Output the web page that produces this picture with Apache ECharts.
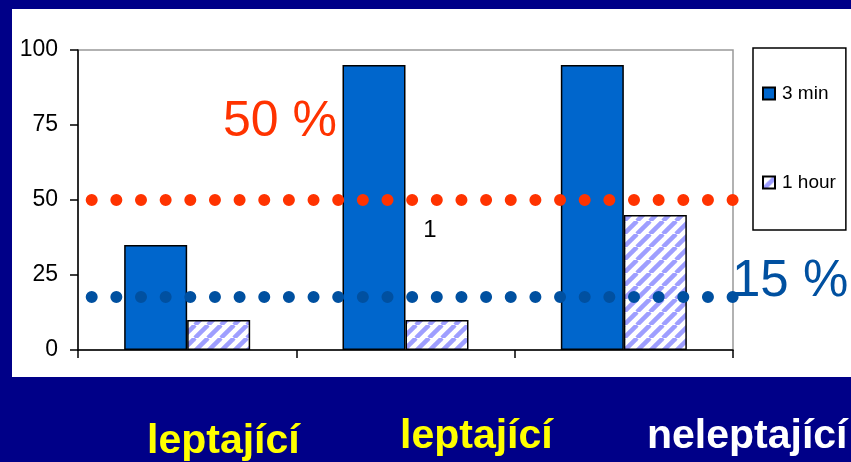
<!DOCTYPE html>
<html><head><meta charset="utf-8">
<script src="https://cdn.jsdelivr.net/npm/echarts@6/dist/echarts.min.js"></script>
<style>html,body{margin:0;padding:0;background:#000088}#c{width:851px;height:462px}</style>
</head><body><div id="c"></div>
<script>
const categories = ['leptající', 'leptající', 'neleptající'];
const seriesNames = ['3 min', '1 hour'];
const min3 = [35, 95, 95];
const hour1 = [10, 10, 45];
const yMin = 0, yMax = 100, yStep = 25;
const refValues = [50, 17.8];
const refLabels = ['50 %', '15 %'];
const noteLabel = '1';

const FONT = '"Liberation Sans", Arial, sans-serif';

// hatch pattern for the "1 hour" series
const P = 13;
const pc = document.createElement('canvas');
pc.width = P; pc.height = P;
const g = pc.getContext('2d');
g.fillStyle = '#fff'; g.fillRect(0, 0, P, P);
g.strokeStyle = '#9E9EFF'; g.lineWidth = 4.5;
for (const o of [-P, 0, P]) { g.beginPath(); g.moveTo(o, P); g.lineTo(o + P, 0); g.stroke(); }

const chart = echarts.init(document.getElementById('c'));
const labelPos = [[147, 442, '#FFFF00'], [400, 437, '#FFFF00'], [647, 437, '#FFFFFF']];
chart.setOption({
  animation: false,
  backgroundColor: '#000088',
  grid: { left: 78, right: 118, top: 50, bottom: 112, show: true, borderColor: '#999', borderWidth: 1.5, backgroundColor: 'transparent' },
  legend: {
    data: seriesNames, orient: 'vertical', left: 753, top: 48,
    padding: [36, 10, 38, 9], itemGap: 70, itemWidth: 12, itemHeight: 12,
    borderColor: '#000', borderWidth: 1.5, backgroundColor: '#fff', icon: 'rect',
    textStyle: { fontFamily: FONT, fontSize: 19, color: '#000', lineHeight: 16, padding: [0, 0, 0, 2] }
  },
  xAxis: {
    type: 'category', data: categories, boundaryGap: true,
    axisLabel: { show: false },
    axisLine: { lineStyle: { color: '#000', width: 1.5 } },
    axisTick: { show: true, length: 8, lineStyle: { color: '#000', width: 1.5 } },
    splitLine: { show: false }
  },
  yAxis: {
    type: 'value', min: yMin, max: yMax, interval: yStep,
    axisLine: { show: true, lineStyle: { color: '#000', width: 1.5 } },
    axisTick: { show: true, length: 8, lineStyle: { color: '#000', width: 1.5 } },
    axisLabel: { fontFamily: FONT, fontSize: 23, color: '#000', margin: 20 },
    splitLine: { show: false }
  },
  series: [
    { name: seriesNames[0], type: 'bar', data: min3, barWidth: 63, barGap: '0%',
      itemStyle: { color: '#0066CC', borderColor: '#000', borderWidth: 1.5 } },
    { name: seriesNames[1], type: 'bar', data: hour1, barWidth: 63, barGap: '0%',
      itemStyle: { color: { image: pc, repeat: 'repeat' }, borderColor: '#000', borderWidth: 1.5 } },
    { name: 'ref', type: 'line', data: [], z: 10,
      markLine: {
        silent: true, symbol: ['none', 'none'], label: { show: false },
        lineStyle: { width: 12, type: [0, 24.65], dashOffset: 10.95, cap: 'round' },
        data: [
          { yAxis: refValues[0], lineStyle: { color: '#FF3300', width: 12, type: [0, 24.65], dashOffset: 10.95, cap: 'round' } },
          { yAxis: refValues[1], lineStyle: { color: '#0050A0', width: 12, type: [0, 24.65], dashOffset: 10.95, cap: 'round' } }
        ]
      } }
  ],
  graphic: [
    { type: 'rect', z: -100, shape: { x: 12, y: 9, width: 839, height: 368 }, style: { fill: '#fff' } },
    { type: 'text', z: 100, x: 280, y: 122, style: { text: refLabels[0], fill: '#FF3300', font: '50px ' + FONT, align: 'center', verticalAlign: 'middle' } },
    { type: 'text', z: 100, x: 732, y: 282, style: { text: refLabels[1], fill: '#0050A0', font: '51px ' + FONT, align: 'left', verticalAlign: 'middle' } },
    { type: 'text', z: 100, x: 430, y: 230, style: { text: noteLabel, fill: '#000', font: '24px ' + FONT, align: 'center', verticalAlign: 'middle' } },
  ].concat(categories.map((c, i) => ({
    type: 'text', z: 100, x: labelPos[i][0], y: labelPos[i][1],
    style: { text: c, fill: labelPos[i][2], font: 'bold 41px ' + FONT, align: 'left', verticalAlign: 'middle' }
  })))
});
</script></body></html>
